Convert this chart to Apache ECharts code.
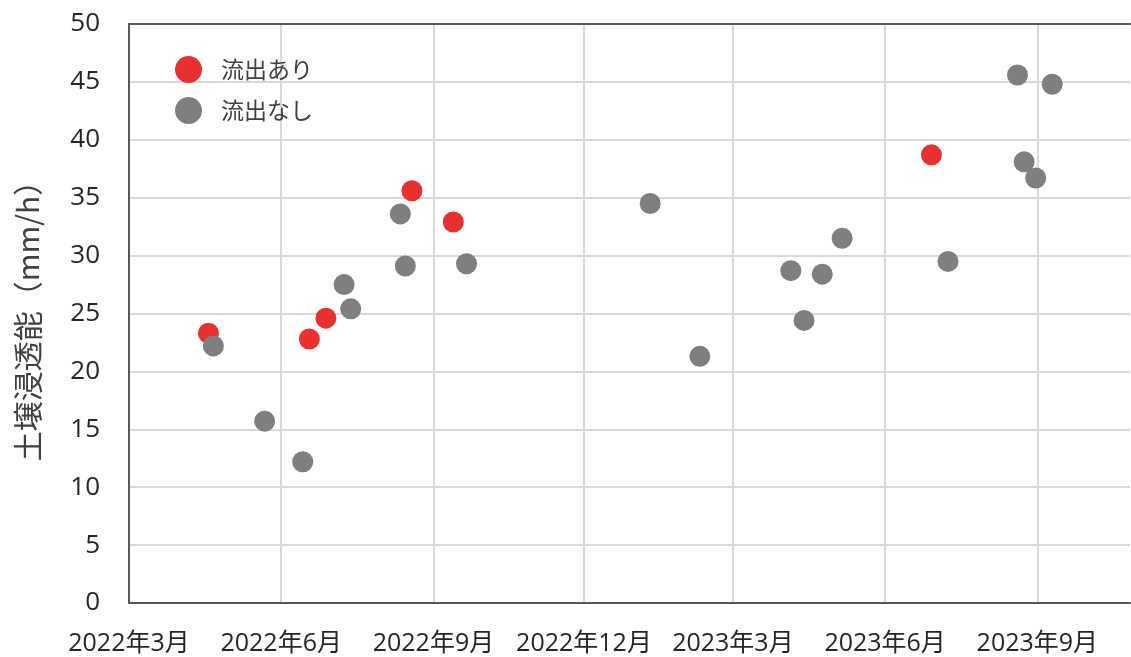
<!DOCTYPE html>
<html>
<head>
<meta charset="utf-8">
<script src="https://cdn.jsdelivr.net/npm/echarts@6/dist/echarts.min.js"></script>
<style>
html,body{margin:0;padding:0;background:#fff;}
#chart{width:1131px;height:657px;}
</style>
</head>
<body>
<div id="chart"></div>
<script>
// Data
const runoffDates = ['2022-04-18','2022-06-18','2022-06-28','2022-08-19','2022-09-13','2023-06-29'];
const runoffValues = [23.3, 22.8, 24.6, 35.6, 32.9, 38.7];
const noRunoffDates = ['2022-04-21','2022-05-22','2022-06-14','2022-07-09','2022-07-13','2022-08-12','2022-08-15','2022-09-21',
  '2023-01-10','2023-02-09','2023-04-05','2023-04-13','2023-04-24','2023-05-06','2023-07-09','2023-08-20','2023-08-24','2023-08-31','2023-09-10'];
const noRunoffValues = [22.2, 15.7, 12.2, 27.5, 25.4, 33.6, 29.1, 29.3,
  34.5, 21.3, 28.7, 24.4, 28.4, 31.5, 29.5, 45.6, 38.1, 36.7, 44.8];
const tickDates = ['2022-03-01','2022-06-01','2022-09-01','2022-12-01','2023-03-01','2023-06-01','2023-09-01'];
const tickLabels = ['2022年3月','2022年6月','2022年9月','2022年12月','2023年3月','2023年6月','2023年9月'];
const seriesNames = ['流出あり','流出なし'];
const yAxisTitle = '土壌浸透能（mm/h）';

const toTs = s => { const p = s.split('-').map(Number); return Date.UTC(p[0], p[1]-1, p[2]); };
const tickTs = tickDates.map(toTs);
const xMin = toTs('2022-03-01');
const xMax = toTs('2023-10-27');

const FONT = '"Open Sans", "Noto Sans CJK JP", sans-serif';
const CJK = '"Noto Sans CJK JP", sans-serif';
const chart = echarts.init(document.getElementById('chart'));
chart.setOption({
  animation: false,
  backgroundColor: '#ffffff',
  grid: { left: 129, right: 1, top: 24, bottom: 54, containLabel: false },
  legend: {
    orient: 'vertical', left: 170, top: 51,
    itemWidth: 27, itemHeight: 27, itemGap: 14,
    icon: 'circle',
    textStyle: { fontFamily: CJK, fontSize: 23, color: '#404040', padding: [0,0,0,14] },
    data: seriesNames
  },
  xAxis: [{
    type: 'value', min: xMin, max: xMax, scale: true,
    axisLine: { show: true, onZero: false, lineStyle: { color: '#595959', width: 2 } },
    axisTick: { show: false, customValues: tickTs },
    splitLine: { show: true, lineStyle: { color: '#d9d9d9', width: 2 } },
    axisLabel: {
      customValues: tickTs, showMinLabel: true, showMaxLabel: true, hideOverlap: false,
      margin: 28, fontFamily: FONT, fontSize: 25, color: '#262626',
      formatter: v => { const i = tickTs.indexOf(v); return i >= 0 ? tickLabels[i] : ''; }
    }
  }, {
    type: 'value', min: xMin, max: xMax, scale: true, position: 'top',
    axisLine: { show: true, onZero: false, lineStyle: { color: '#595959', width: 2 } },
    axisTick: { show: false }, axisLabel: { show: false }, splitLine: { show: false }
  }],
  yAxis: {
    type: 'value', min: 0, max: 50, interval: 5,
    name: yAxisTitle, nameLocation: 'middle', nameGap: 86, nameRotate: 90,
    nameTextStyle: { fontFamily: CJK, fontSize: 30, color: '#404040' },
    axisLine: { show: true, lineStyle: { color: '#595959', width: 2 } },
    axisTick: { show: false },
    splitLine: { show: true, lineStyle: { color: '#d9d9d9', width: 2 } },
    axisLabel: { margin: 29, fontFamily: FONT, fontSize: 26, color: '#262626' }
  },
  series: [{
    name: seriesNames[0], type: 'scatter', symbolSize: 21,
    itemStyle: { color: '#E8302E', opacity: 1 },
    data: runoffDates.map((d, i) => [toTs(d), runoffValues[i]])
  }, {
    name: seriesNames[1], type: 'scatter', symbolSize: 21,
    itemStyle: { color: '#7F7F7F', opacity: 1 },
    data: noRunoffDates.map((d, i) => [toTs(d), noRunoffValues[i]])
  }]
});
</script>
</body>
</html>
